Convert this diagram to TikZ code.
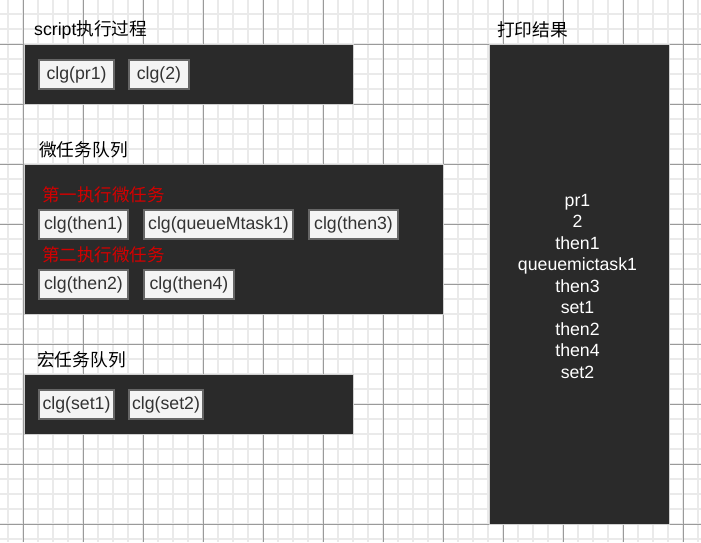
\documentclass[tikz,border=0pt]{standalone}
\usepackage{fontspec}
\setmainfont{Liberation Sans}
\newfontfamily\cjk{Noto Sans CJK SC}
\definecolor{darkbg}{HTML}{2A2A2A}
\definecolor{darkborder}{HTML}{D0D0D0}
\definecolor{chipfill}{HTML}{F4F4F4}
\definecolor{chipborder}{HTML}{666666}
\definecolor{chiptext}{HTML}{333333}
\definecolor{redtext}{HTML}{D40000}
\definecolor{minorgrid}{HTML}{EAEAEA}
\definecolor{majorgrid}{HTML}{9A9A9A}
\tikzset{
  panel/.style={draw=darkborder, line width=1pt, fill=darkbg, inner sep=0pt, outer sep=0pt},
  chip/.style={draw=chipborder, line width=2pt, fill=chipfill, text=chiptext, inner sep=0pt,
     minimum height=29pt, font=\fontsize{17.7}{20}\selectfont},
  paneltitle/.style={anchor=west, inner sep=0pt, text=black, font=\fontsize{17.7}{20}\selectfont},
  redlabel/.style={anchor=west, inner sep=0pt, text=redtext, font=\cjk\fontsize{17.5}{20}\selectfont},
  result/.style={align=center, text=white, inner sep=0pt, font=\fontsize{17.7}{21.5}\selectfont}
}
\begin{document}
\begin{tikzpicture}[x=1pt,y=-1pt]
\useasboundingbox (0,0) rectangle (701,542);
\fill[white] (0,0) rectangle (701,542);
% grid
\foreach \gx in {8,23,...,698} \draw[minorgrid, line width=2pt] (\gx,0) -- (\gx,542);
\foreach \gy in {-1,14,...,541} \draw[minorgrid, line width=2pt] (0,\gy) -- (701,\gy);
\foreach \gx in {23,83,...,683} \draw[majorgrid, line width=1pt] (\gx,0) -- (\gx,542);
\foreach \gy in {44,104,...,524} \draw[majorgrid, line width=1pt] (0,\gy) -- (701,\gy);

% panels
\node[panel, minimum width=329pt, minimum height=60pt] (scriptpanel) at (189,74.5) {};
\node[panel, minimum width=419pt, minimum height=150pt] (micropanel) at (234,239.5) {};
\node[panel, minimum width=329pt, minimum height=60pt] (macropanel) at (189,404.5) {};
\node[panel, minimum width=180pt, minimum height=480pt] (printpanel) at (579,284.5) {};

% titles
\node[paneltitle] (t1) at (34,30) {script{\cjk 执行过程}};
\node[paneltitle] (t2) at (39,150) {\cjk 微任务队列};
\node[paneltitle] (t3) at (37,360) {\cjk 宏任务队列};
\node[paneltitle] (t4) at (497,30) {\cjk 打印结果};

% script chips
\node[chip, minimum width=75pt] (pr1) at (76.5,74.5) {clg(pr1)};
\node[chip, minimum width=60pt] (c2) at (159,74.5) {clg(2)};

% micro tasks
\node[redlabel] (r1) at (42,195) {第一执行微任务};
\node[chip, minimum width=89pt] (then1) at (83.5,224.5) {clg(then1)};
\node[chip, minimum width=149pt] (qm1) at (218.5,224.5) {clg(queueMtask1)};
\node[chip, minimum width=89pt] (then3) at (353.5,224.5) {clg(then3)};
\node[redlabel] (r2) at (42,255) {第二执行微任务};
\node[chip, minimum width=89pt] (then2) at (83.5,284.5) {clg(then2)};
\node[chip, minimum width=90pt] (then4) at (189,284.5) {clg(then4)};

% macro tasks
\node[chip, minimum width=75pt] (set1) at (76.5,404.5) {clg(set1)};
\node[chip, minimum width=74pt] (set2) at (166,404.5) {clg(set2)};

% results
\node[result] (res) at (577.5,286) {pr1\\2\\then1\\queuemictask1\\then3\\set1\\then2\\then4\\set2};
\end{tikzpicture}
\end{document}
